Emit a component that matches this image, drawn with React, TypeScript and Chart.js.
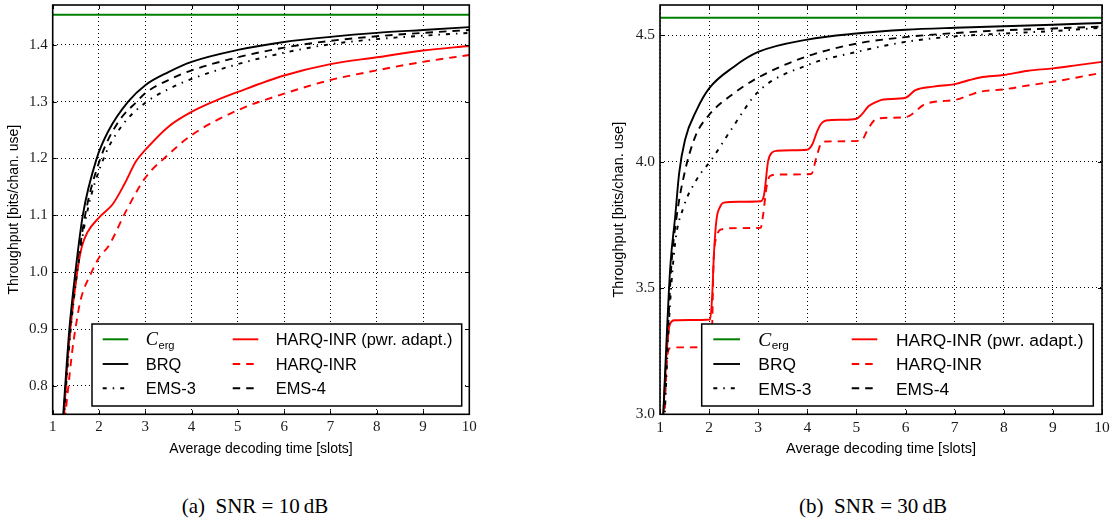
import React, { useEffect, useRef } from 'react';
import { Chart, registerables } from 'chart.js';

Chart.register(...registerables);

type Pt = [number, number];

const SANS = '"Liberation Sans", Arial, Helvetica, sans-serif';
const SERIF = '"Liberation Serif", "Times New Roman", serif';

// ---------- axes ----------
const xTicks = [1, 2, 3, 4, 5, 6, 7, 8, 9, 10];
const yTicks10 = [0.8, 0.9, 1.0, 1.1, 1.2, 1.3, 1.4];
const yTicks30 = [3.0, 3.5, 4.0, 4.5];

const X_TITLE = 'Average decoding time [slots]';
const Y_TITLE = 'Throughput [bits/chan. use]';

const LABELS = ['C_erg', 'BRQ', 'EMS-3', 'HARQ-INR (pwr. adapt.)', 'HARQ-INR', 'EMS-4'];

// ---------- (a) SNR = 10 dB ----------
const cErg10 = 1.453;
const brq10: Pt[] = [[1.22, 0.74], [1.27, 0.8], [1.36, 0.9], [1.49, 1.0], [1.65, 1.1], [1.95, 1.2], [2.2, 1.248], [2.63, 1.3], [3, 1.329], [3.5, 1.352], [4, 1.37], [5, 1.391], [6, 1.405], [7, 1.414], [8, 1.421], [9, 1.426], [10, 1.431]];
const ems3_10: Pt[] = [[1.24, 0.74], [1.29, 0.8], [1.39, 0.9], [1.53, 1.0], [1.73, 1.1], [2.1, 1.2], [2.5, 1.258], [3, 1.298], [3.5, 1.322], [4, 1.34], [5, 1.366], [6, 1.386], [7, 1.401], [8, 1.41], [9, 1.416], [10, 1.421]];
const ems4_10: Pt[] = [[1.23, 0.74], [1.28, 0.8], [1.38, 0.9], [1.52, 1.0], [1.7, 1.1], [2.03, 1.2], [2.4, 1.262], [2.84, 1.302], [3, 1.315], [3.5, 1.338], [4, 1.355], [5, 1.378], [6, 1.395], [7, 1.407], [8, 1.415], [9, 1.421], [10, 1.426]];
const harqP10: Pt[] = [[1.24, 0.74], [1.3, 0.82], [1.38, 0.9], [1.53, 1.0], [1.63, 1.045], [1.75, 1.07], [2.0, 1.096], [2.3, 1.12], [2.55, 1.155], [2.8, 1.195], [3.0, 1.215], [3.5, 1.256], [4, 1.282], [4.5, 1.301], [5, 1.317], [6, 1.346], [7, 1.366], [8, 1.378], [9, 1.39], [10, 1.398]];
const harq10: Pt[] = [[1.26, 0.74], [1.34, 0.8], [1.42, 0.86], [1.49, 0.9], [1.6, 0.95], [1.84, 1.0], [2.02, 1.028], [2.2, 1.045], [2.6, 1.11], [3.0, 1.166], [3.5, 1.207], [4, 1.241], [5, 1.285], [6, 1.314], [7, 1.338], [8, 1.355], [9, 1.37], [10, 1.382]];

// ---------- (b) SNR = 30 dB ----------
const cErg30 = 4.57;
const brq30: Pt[] = [[1.06, 2.97], [1.14, 3.322], [1.21, 3.586], [1.31, 3.784], [1.39, 3.955], [1.51, 4.087], [1.75, 4.206], [2, 4.29], [2.5, 4.375], [3, 4.434], [4, 4.483], [5, 4.507], [6, 4.522], [7, 4.53], [8, 4.536], [9, 4.542], [10, 4.549]];
const ems3_30: Pt[] = [[1.09, 2.97], [1.19, 3.39], [1.31, 3.68], [1.48, 3.82], [1.75, 3.93], [2.05, 4.008], [2.45, 4.127], [3, 4.277], [4, 4.382], [5, 4.434], [6, 4.474], [7, 4.496], [8, 4.507], [9, 4.517], [10, 4.53]];
const ems4_30: Pt[] = [[1.08, 2.97], [1.16, 3.32], [1.23, 3.586], [1.34, 3.784], [1.5, 3.955], [1.72, 4.1], [2, 4.185], [2.5, 4.27], [3, 4.333], [4, 4.417], [5, 4.467], [6, 4.493], [7, 4.509], [8, 4.52], [9, 4.527], [10, 4.535]];
const harqP30: Pt[] = [[1.06, 2.97], [1.14, 3.256], [1.2, 3.355], [1.3, 3.372], [1.6, 3.373], [2.02, 3.375], [2.06, 3.46], [2.1, 3.64], [2.15, 3.77], [2.22, 3.82], [2.3, 3.838], [2.6, 3.841], [3.05, 3.843], [3.12, 3.87], [3.2, 4.0], [3.27, 4.034], [3.38, 4.043], [3.7, 4.045], [3.99, 4.047], [4.1, 4.068], [4.2, 4.12], [4.28, 4.15], [4.38, 4.163], [4.7, 4.166], [5.0, 4.17], [5.1, 4.185], [5.25, 4.22], [5.42, 4.238], [5.55, 4.246], [6.0, 4.253], [6.2, 4.283], [6.57, 4.297], [7.0, 4.307], [7.3, 4.323], [7.52, 4.333], [8.0, 4.343], [8.5, 4.36], [9.0, 4.369], [9.5, 4.382], [10, 4.395]];
const harq30: Pt[] = [[1.08, 2.97], [1.14, 3.216], [1.21, 3.262], [1.4, 3.265], [2.03, 3.267], [2.06, 3.33], [2.09, 3.6], [2.15, 3.7], [2.25, 3.732], [2.6, 3.737], [3.05, 3.738], [3.1, 3.79], [3.17, 3.9], [3.24, 3.943], [3.4, 3.949], [4.08, 3.951], [4.19, 4.021], [4.29, 4.075], [4.4, 4.08], [5.1, 4.083], [5.21, 4.119], [5.34, 4.159], [5.48, 4.172], [6.0, 4.176], [6.16, 4.192], [6.36, 4.224], [6.63, 4.238], [7.0, 4.244], [7.31, 4.264], [7.52, 4.277], [8.0, 4.286], [8.54, 4.303], [9.0, 4.316], [9.49, 4.333], [10, 4.352]];

// ---------- styles ----------
const STYLES = [
  { color: '#008000', width: 2, dash: [] as number[] },
  { color: '#000000', width: 1.9, dash: [] as number[] },
  { color: '#000000', width: 1.9, dash: [4, 6, 1.5, 6] },
  { color: '#ff0000', width: 1.9, dash: [] as number[] },
  { color: '#ff0000', width: 1.9, dash: [7.5, 6] },
  { color: '#000000', width: 1.9, dash: [7.5, 6] },
];

interface LegendCfg {
  rightInset: number; bottomInset: number; w: number; h: number;
  rows: number[]; s1: number; e1: number; t1: number; s2: number; e2: number; t2: number;
  font: number;
}

interface PanelCfg {
  left: number; width: number; height: number;
  yAxisW: number; xAxisH: number;
  padding: { left: number; top: number; right: number; bottom: number };
  yMin: number; yMax: number; yTicks: number[];
  tickFont: number; titleFont: number; yTitlePad: number;
  series: Pt[][];
  legend: LegendCfg;
}

function makePlugin(cfg: PanelCfg) {
  return {
    id: 'frameLegend',
    afterDraw(chart: any) {
      const { ctx, chartArea: a, scales } = chart;
      ctx.save();
      // inward tick marks
      ctx.strokeStyle = '#000';
      ctx.lineWidth = 1;
      ctx.setLineDash([]);
      ctx.beginPath();
      for (const v of xTicks) {
        const px = Math.round(scales.x.getPixelForValue(v)) + 0.5;
        ctx.moveTo(px, a.bottom); ctx.lineTo(px, a.bottom - 4);
        ctx.moveTo(px, a.top); ctx.lineTo(px, a.top + 4);
      }
      for (const v of cfg.yTicks) {
        const py = Math.round(scales.y.getPixelForValue(v)) + 0.5;
        ctx.moveTo(a.left, py); ctx.lineTo(a.left + 4, py);
        ctx.moveTo(a.right, py); ctx.lineTo(a.right - 4, py);
      }
      ctx.stroke();
      // frame
      ctx.lineWidth = 1.6;
      ctx.strokeRect(a.left, a.top, a.right - a.left, a.bottom - a.top);

      // legend
      const L = cfg.legend;
      const bx = a.right - L.rightInset - L.w;
      const by = a.bottom - L.bottomInset - L.h;
      ctx.fillStyle = '#fff';
      ctx.fillRect(bx, by, L.w, L.h);
      ctx.lineWidth = 1.5;
      ctx.strokeStyle = '#000';
      ctx.strokeRect(bx, by, L.w, L.h);
      const ds = chart.data.datasets;
      ds.forEach((d: any, i: number) => {
        const col = Math.floor(i / 3);
        const row = i % 3;
        const y = by + L.rows[row];
        const sx = bx + (col === 0 ? L.s1 : L.s2);
        const ex = bx + (col === 0 ? L.e1 : L.e2);
        const tx = bx + (col === 0 ? L.t1 : L.t2);
        ctx.save();
        ctx.strokeStyle = d.borderColor;
        ctx.lineWidth = d.borderWidth;
        ctx.setLineDash(d.borderDash || []);
        ctx.lineCap = 'butt';
        ctx.beginPath();
        ctx.moveTo(sx, y); ctx.lineTo(ex, y);
        ctx.stroke();
        ctx.restore();
        ctx.fillStyle = '#000';
        ctx.textBaseline = 'alphabetic';
        ctx.textAlign = 'left';
        const base = y + L.font * 0.36;
        const label: string = d.label;
        if (label.startsWith('C_')) {
          ctx.font = `italic ${L.font * 1.12}px ${SERIF}`;
          ctx.fillText('C', tx, base);
          const cw = ctx.measureText('C').width;
          ctx.font = `${L.font * 0.68}px ${SANS}`;
          ctx.fillText(label.slice(2), tx + cw + 0.5, base + 3.5);
        } else {
          ctx.font = `${L.font}px ${SANS}`;
          ctx.fillText(label, tx, base);
        }
      });
      ctx.restore();
    },
  };
}

function Panel({ cfg }: { cfg: PanelCfg }) {
  const ref = useRef<HTMLCanvasElement>(null);
  useEffect(() => {
    const canvas = ref.current!;
    const datasets = cfg.series.map((pts, i) => ({
      label: LABELS[i],
      data: pts.map(([x, y]) => ({ x, y })),
      borderColor: STYLES[i].color,
      backgroundColor: STYLES[i].color,
      borderWidth: STYLES[i].width,
      borderDash: STYLES[i].dash,
      pointRadius: 0,
      fill: false,
      cubicInterpolationMode: 'monotone' as const,
      borderCapStyle: 'butt' as const,
      borderJoinStyle: 'round' as const,
    }));
    const chart = new Chart(canvas, {
      type: 'line',
      data: { datasets },
      options: {
        responsive: false,
        animation: false,
        events: [],
        layout: { padding: cfg.padding, autoPadding: false },
        plugins: { legend: { display: false }, tooltip: { enabled: false }, title: { display: false } },
        scales: {
          x: {
            type: 'linear',
            min: 1,
            max: 10,
            afterBuildTicks: (s: any) => { s.ticks = xTicks.map((v) => ({ value: v })); },
            afterFit: (s: any) => { s.height = cfg.xAxisH; s.paddingLeft = 0; s.paddingRight = 0; },
            ticks: {
              autoSkip: false,
              maxRotation: 0,
              padding: 4,
              color: '#1a1a1a',
              font: { family: SERIF, size: cfg.tickFont },
              callback: (v: any) => String(v),
            },
            grid: { color: '#000', lineWidth: 1, drawTicks: false },
            border: { display: false, dash: [1, 3] },
            title: { display: true, text: X_TITLE, color: '#000', font: { family: SANS, size: cfg.titleFont }, padding: { top: 0, bottom: 0 } },
          },
          y: {
            type: 'linear',
            min: cfg.yMin,
            max: cfg.yMax,
            afterBuildTicks: (s: any) => { s.ticks = cfg.yTicks.map((v) => ({ value: v })); },
            afterFit: (s: any) => { s.width = cfg.yAxisW; s.paddingTop = 0; s.paddingBottom = 0; },
            ticks: {
              padding: 5,
              color: '#1a1a1a',
              font: { family: SERIF, size: cfg.tickFont },
              callback: (v: any) => Number(v).toFixed(1),
            },
            grid: { color: '#000', lineWidth: 1, drawTicks: false },
            border: { display: false, dash: [1, 3] },
            title: { display: true, text: Y_TITLE, color: '#000', font: { family: SANS, size: cfg.titleFont }, padding: { top: cfg.yTitlePad, bottom: 0 } },
          },
        },
      },
      plugins: [makePlugin(cfg)],
    } as any);
    return () => chart.destroy();
  }, [cfg]);
  return (
    <canvas
      ref={ref}
      width={cfg.width}
      height={cfg.height}
      style={{ position: 'absolute', left: cfg.left, top: 0, width: cfg.width, height: cfg.height }}
    />
  );
}

const leftCfg: PanelCfg = {
  left: 0, width: 560, height: 470,
  yAxisW: 52.7, xAxisH: 43,
  padding: { left: 0, top: 5, right: 90.7, bottom: 12.7 },
  yMin: 0.75, yMax: 1.47, yTicks: yTicks10,
  tickFont: 15, titleFont: 14, yTitlePad: 5.6,
  series: [[[1, cErg10], [10, cErg10]], brq10, ems3_10, harqP10, harq10, ems4_10],
  legend: { rightInset: 7.6, bottomInset: 8.3, w: 369.7, h: 82, rows: [15.3, 40, 64.3], s1: 10.7, e1: 36.3, t1: 53.7, s2: 140.7, e2: 166.3, t2: 183.7, font: 16.4 },
};

const rightCfg: PanelCfg = {
  left: 600, width: 518, height: 470,
  yAxisW: 60, xAxisH: 43,
  padding: { left: 0, top: 5, right: 16, bottom: 12.7 },
  yMin: 3.0, yMax: 4.62, yTicks: yTicks30,
  tickFont: 15.5, titleFont: 14.5, yTitlePad: 10.3,
  series: [[[1, cErg30], [10, cErg30]], brq30, ems3_30, harqP30, harq30, ems4_30],
  legend: { rightInset: 8.7, bottomInset: 8.3, w: 391.6, h: 82, rows: [15.3, 40, 64.3], s1: 11.6, e1: 38.3, t1: 56.6, s2: 150, e2: 175.6, t2: 194.3, font: 17.4 },
};

const captionStyle: React.CSSProperties = {
  position: 'absolute',
  top: 496,
  transform: 'translateX(-50%)',
  fontFamily: SERIF,
  fontSize: 21,
  lineHeight: '21px',
  whiteSpace: 'pre',
  color: '#000',
};

export default function App() {
  return (
    <div style={{ position: 'absolute', left: 0, top: 0, width: 1118, height: 523, overflow: 'hidden', background: '#fff' }}>
      <Panel cfg={leftCfg} />
      <Panel cfg={rightCfg} />
      <div style={{ ...captionStyle, left: 255 }}>{'(a)  SNR = 10\u2009dB'}</div>
      <div style={{ ...captionStyle, left: 873 }}>{'(b)  SNR = 30\u2009dB'}</div>
    </div>
  );
}
